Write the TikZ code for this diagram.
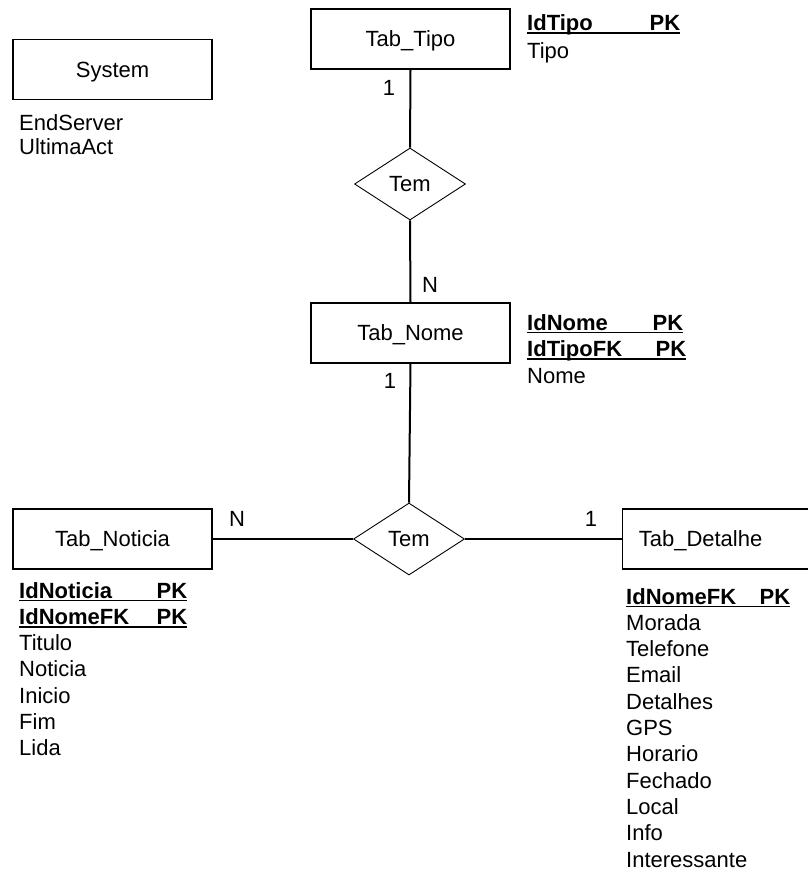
\documentclass[tikz,border=0pt]{standalone}
\usepackage{fontspec}
\setmainfont{Liberation Sans}
\usetikzlibrary{shapes.geometric}

% bold key row: name on the left, PK on the right, one thick underline below
\newcommand\pkrow[2]{\rlap{\rule[-3.4pt]{#2}{1.9pt}}\makebox[#2][l]{\textbf{#1}\hfill\textbf{PK}}}

\tikzset{
  txt/.style={font=\fontsize{22}{26}\selectfont},
  ent/.style={draw, txt, line width=1.1pt, minimum width=199pt, minimum height=60pt,
              inner sep=0pt, text height=15.8pt, text depth=0pt},
  rel/.style={draw, txt, diamond, line width=0.9pt, minimum width=111pt, minimum height=72pt,
              inner sep=0pt},
  attr/.style={txt, anchor=base west, inner sep=0pt},
  card/.style={txt, inner sep=0pt},
  link/.style={line width=2pt}
}

\begin{document}
\begin{tikzpicture}[x=1pt, y=-1pt]
\useasboundingbox (0,0) rectangle (808,873);

% entities
\node[ent] (system) at (112.5,69.5) {System};
\node[ent] (tipo)   at (410.5,39)   {Tab\_Tipo};
\node[ent] (nome)   at (410.5,333)  {Tab\_Nome};
\node[ent] (noticia) at (112.5,539) {Tab\_Noticia};
\node[ent, minimum width=200pt, anchor=west] (detalhe) at (622,539)
  {\makebox[156pt]{Tab\_Detalhe}\kern44pt};

% relationships
\node[rel] (tem1) at (410,184) {Tem};
\node[rel] (tem2) at (409,539) {Tem};

% connectors
\draw[link] (tipo.south) -- (tem1.north);
\draw[link] (tem1.south) -- (nome.north);
\draw[link] (nome.south) -- (tem2.north);
\draw[link] (noticia.east) -- (tem2.west);
\draw[link] (tem2.east) -- (detalhe.west);

% cardinalities
\node[card] (c1) at (389,88)  {1};
\node[card] (c2) at (430,285) {N};
\node[card] (c3) at (390,381) {1};
\node[card] (c4) at (237,519) {N};
\node[card] (c5) at (591,519) {1};

% attributes of System
\node[attr] (sysA) at (19,130) {EndServer};
\node[attr] (sysB) at (19,154) {UltimaAct};

% attributes of Tab_Tipo
\node[attr] (tipoA) at (527,30.5) {\pkrow{IdTipo}{153pt}};
\node[attr] (tipoB) at (527,58.5) {Tipo};

% attributes of Tab_Nome
\node[attr] (nomeA) at (527,330)   {\pkrow{IdNome}{156pt}};
\node[attr] (nomeB) at (527,356.5) {\pkrow{IdTipoFK}{159pt}};
\node[attr] (nomeC) at (527,383)   {Nome};

% attributes of Tab_Noticia
\node[attr] (notA) at (19,598)   {\pkrow{IdNoticia}{168pt}};
\node[attr] (notB) at (19,624.5) {\pkrow{IdNomeFK}{168pt}};
\foreach \t [count=\i] in {Titulo,Noticia,Inicio,Fim,Lida}
  \node[attr] (not\i) at (19,{624.5+26.2*\i}) {\t};

% attributes of Tab_Detalhe
\node[attr] (detA) at (626,604) {\pkrow{IdNomeFK}{164pt}};
\foreach \t [count=\i] in {Morada,Telefone,Email,Detalhes,GPS,Horario,Fechado,Local,Info,Interessante}
  \node[attr] (det\i) at (626,{604+26.3*\i}) {\t};
\end{tikzpicture}
\end{document}
